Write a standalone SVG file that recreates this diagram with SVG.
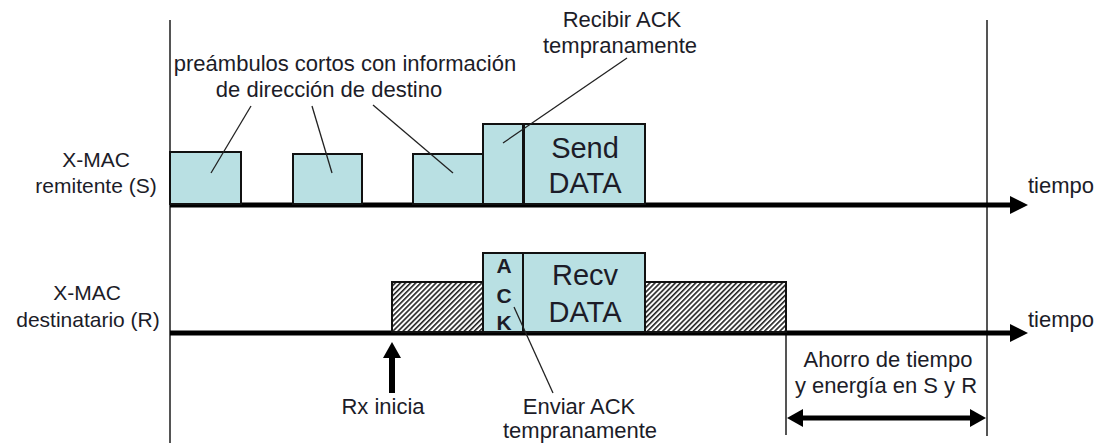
<svg xmlns="http://www.w3.org/2000/svg" width="1104" height="443" viewBox="0 0 1104 443">
<style>
text{font-family:"Liberation Sans",Arial,sans-serif;fill:#1c1c28;}
.lbl{font-size:22px;}
.side{font-size:21px;text-anchor:middle;}
.big{font-size:29px;text-anchor:middle;}
.ack{font-size:21px;font-weight:bold;text-anchor:middle;}
.mid{text-anchor:middle;}
.box{fill:#b9e0e3;stroke:#111;stroke-width:2;}
.hatch{fill:url(#hatch);stroke:#111;stroke-width:2;}
.tl{stroke:#000;stroke-width:5;fill:none;}
.vl{stroke:#555;stroke-width:2;fill:none;}
.lead{stroke:#222;stroke-width:1.3;fill:none;}
</style>
<defs>
<pattern id="hatch" patternUnits="userSpaceOnUse" width="3.6" height="3.6" patternTransform="rotate(45)">
<rect width="3.6" height="3.6" fill="#fff"/>
<rect width="1.6" height="3.6" fill="#222"/>
</pattern>
</defs>
<rect width="1104" height="443" fill="#fff"/>
<g id="frame">
<line class="vl" x1="170" y1="20" x2="170" y2="443"/>
<line class="vl" x1="987" y1="20" x2="987" y2="436"/>
<line class="vl" x1="786" y1="333" x2="786" y2="435"/>
</g>
<g id="timeline-sender">
<line class="tl" x1="170" y1="205" x2="1014" y2="205"/>
<polygon points="1010,196 1028,205 1010,214" fill="#000"/>
<text class="lbl" x="1028" y="193">tiempo</text>
</g>
<g id="timeline-receiver">
<line class="tl" x1="170" y1="333" x2="1014" y2="333"/>
<polygon points="1010,324 1028,333 1010,342" fill="#000"/>
<text class="lbl" x="1028" y="327">tiempo</text>
</g>
<g id="label-sender">
<text class="side" x="96" y="167">X-MAC</text>
<text class="side" x="96" y="193">remitente (S)</text>
</g>
<g id="label-receiver">
<text class="side" x="87" y="300">X-MAC</text>
<text class="side" x="88" y="327">destinatario (R)</text>
</g>
<g id="preamble1"><rect class="box" x="170" y="152" width="71" height="52"/></g>
<g id="preamble2"><rect class="box" x="293" y="154" width="69" height="50"/></g>
<g id="preamble3"><rect class="box" x="413" y="154" width="70" height="50"/></g>
<g id="ack-recv"><rect class="box" x="483" y="124" width="40" height="80"/></g>
<g id="send-data">
<rect class="box" x="524" y="124" width="121" height="80"/>
<text class="big" x="585" y="158">Send</text>
<text class="big" x="585" y="193">DATA</text>
</g>
<g id="listen1"><rect class="hatch" x="392" y="282" width="91" height="50"/></g>
<g id="ack-send">
<rect class="box" x="483" y="253" width="40" height="79"/>
<text class="ack" x="504" y="273">A</text>
<text class="ack" x="504" y="303">C</text>
<text class="ack" x="504" y="330">K</text>
</g>
<g id="recv-data">
<rect class="box" x="523" y="253" width="122" height="79"/>
<text class="big" x="585" y="285">Recv</text>
<text class="big" x="585" y="322">DATA</text>
</g>
<g id="listen2"><rect class="hatch" x="645" y="282" width="141" height="50"/></g>
<g id="note-preambles">
<text class="lbl mid" x="345" y="71">preámbulos cortos con información</text>
<text class="lbl mid" x="329" y="97">de dirección de destino</text>
</g>
<g id="note-recibir">
<text class="lbl mid" x="622" y="27">Recibir ACK</text>
<text class="lbl mid" x="620" y="53">tempranamente</text>
</g>
<g id="note-enviar">
<text class="lbl mid" x="579" y="414">Enviar ACK</text>
<text class="lbl mid" x="580" y="438">tempranamente</text>
</g>
<g id="note-rx">
<text class="lbl mid" x="383" y="414">Rx inicia</text>
</g>
<g id="note-ahorro">
<text class="lbl mid" x="888" y="367">Ahorro de tiempo</text>
<text class="lbl mid" x="886" y="393">y energía en S y R</text>
</g>
<g id="connectors">
<line class="lead" x1="251" y1="106" x2="211" y2="173"/>
<line class="lead" x1="312" y1="106" x2="332" y2="173"/>
<line class="lead" x1="373" y1="105" x2="453" y2="173"/>
<line class="lead" x1="627" y1="58" x2="503" y2="143"/>
<line class="lead" x1="514" y1="307" x2="553" y2="393"/>
<line x1="392" y1="393" x2="392" y2="354" stroke="#000" stroke-width="6"/>
<polygon points="383,358 392,342 401,358" fill="#000"/>
<line x1="800" y1="418" x2="973" y2="418" stroke="#000" stroke-width="5"/>
<polygon points="803,409 787,418 803,427" fill="#000"/>
<polygon points="970,409 986,418 970,427" fill="#000"/>
</g>
</svg>
